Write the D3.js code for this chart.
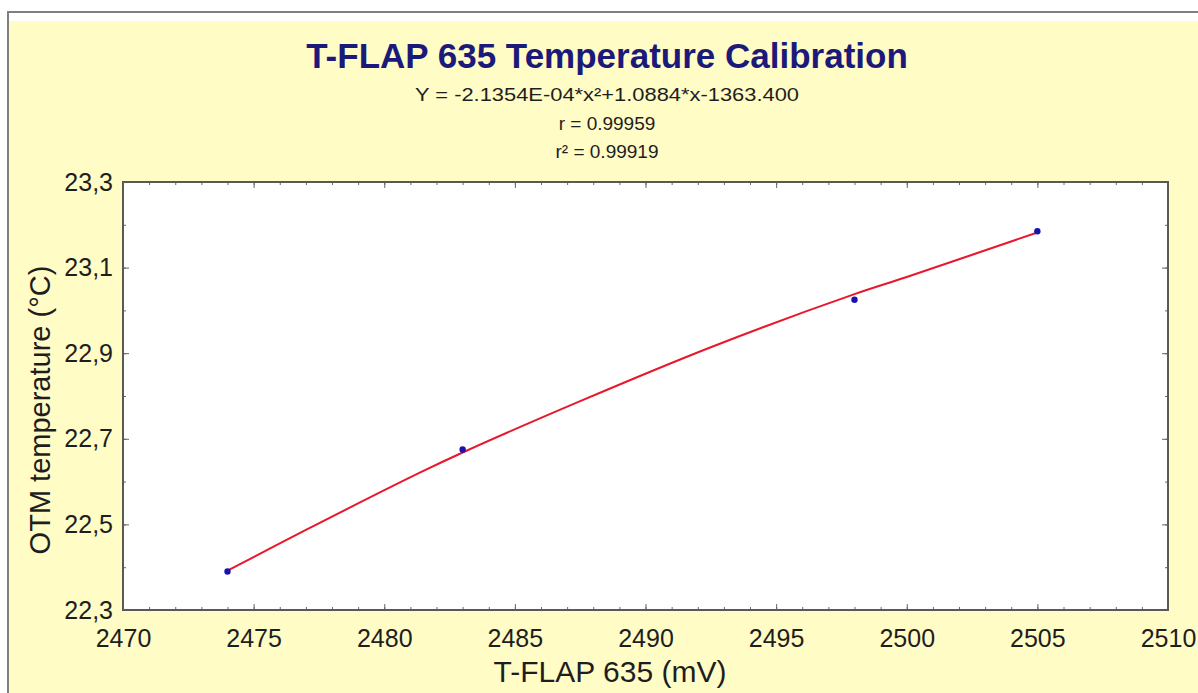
<!DOCTYPE html>
<html><head><meta charset="utf-8">
<script src="https://cdn.jsdelivr.net/npm/d3@7"></script>
<style>html,body{margin:0;padding:0;background:#fff;}svg{display:block;}</style>
</head><body>
<script>
// Data
const pointsX = [2474, 2483, 2498, 2505];
const pointsY = [22.39, 22.675, 23.025, 23.185];
const fitX = [2474, 2477, 2481.4, 2483, 2487.5, 2492.5, 2498, 2500, 2505];
const fitY = [22.392, 22.487, 22.622, 22.668, 22.788, 22.914, 23.038, 23.078, 23.182];
const xTicks = [2470, 2475, 2480, 2485, 2490, 2495, 2500, 2505, 2510];
const yTicks = [22.3, 22.5, 22.7, 22.9, 23.1, 23.3];
const titleText = "T-FLAP 635 Temperature Calibration";
const subLines = ["Y = -2.1354E-04*x²+1.0884*x-1363.400", "r = 0.99959", "r² = 0.99919"];
const xTitle = "T-FLAP 635 (mV)";
const yTitle = "OTM temperature (°C)";

const W = 1198, H = 693;
const L = 123, R = 1168, T = 182, B = 610;
const svg = d3.select("body").append("svg").attr("width", W).attr("height", H);
const font = "'Liberation Sans', Arial, sans-serif";

svg.append("rect").attr("x", 0).attr("y", 0).attr("width", W).attr("height", H).attr("fill", "#fff");
svg.append("rect").attr("x", 9).attr("y", 21).attr("width", W - 9).attr("height", H - 21).attr("fill", "#fffcc6");
svg.append("line").attr("x1", 8).attr("x2", W).attr("y1", 12).attr("y2", 12).attr("stroke", "#7f7f7f").attr("stroke-width", 2);
svg.append("line").attr("x1", 8).attr("x2", 8).attr("y1", 11).attr("y2", H).attr("stroke", "#7f7f7f").attr("stroke-width", 2);

const x = d3.scaleLinear().domain([2470, 2510]).range([L, R]);
const y = d3.scaleLinear().domain([22.3, 23.3]).range([B, T]);

svg.append("rect").attr("x", L).attr("y", T).attr("width", R - L).attr("height", B - T).attr("fill", "#fff");

// minor ticks
const xMinor = d3.range(2470, 2511, 1);
const yMinor = d3.range(22.3, 23.301, 0.1);
function axisTicks(axis, tks, size) {
  return axis.tickValues(tks).tickSize(size).tickFormat("");
}
const tickG = svg.append("g");
tickG.append("g").attr("transform", `translate(0,${B})`).call(axisTicks(d3.axisTop(x), xMinor, 3));
tickG.append("g").attr("transform", `translate(0,${B})`).call(axisTicks(d3.axisTop(x), xTicks, 6));
tickG.append("g").attr("transform", `translate(0,${T})`).call(axisTicks(d3.axisBottom(x), xMinor, 3));
tickG.append("g").attr("transform", `translate(0,${T})`).call(axisTicks(d3.axisBottom(x), xTicks, 6));
tickG.append("g").attr("transform", `translate(${L},0)`).call(axisTicks(d3.axisRight(y), yMinor, 3));
tickG.append("g").attr("transform", `translate(${L},0)`).call(axisTicks(d3.axisRight(y), yTicks, 6));
tickG.append("g").attr("transform", `translate(${R},0)`).call(axisTicks(d3.axisLeft(y), yMinor, 3));
tickG.append("g").attr("transform", `translate(${R},0)`).call(axisTicks(d3.axisLeft(y), yTicks, 6));
tickG.selectAll(".domain").remove();
tickG.selectAll(".tick line").attr("stroke", "#666").attr("stroke-width", 1);

// frame
svg.append("rect").attr("x", L).attr("y", T).attr("width", R - L).attr("height", B - T)
  .attr("fill", "none").attr("stroke", "#5a5a55").attr("stroke-width", 2);

// tick labels
const xAxisLab = svg.append("g").attr("transform", `translate(0,${B})`)
  .call(d3.axisBottom(x).tickValues(xTicks).tickSize(0).tickPadding(0).tickFormat(d3.format("d")));
xAxisLab.select(".domain").remove();
xAxisLab.selectAll("text").attr("dy", null).attr("y", 37)
  .attr("font-family", font).attr("font-size", 25).attr("fill", "#1e1e1e");

const yAxisLab = svg.append("g").attr("transform", `translate(${L},0)`)
  .call(d3.axisLeft(y).tickValues(yTicks).tickSize(0).tickPadding(10).tickFormat(d => d3.format(".1f")(d).replace(".", ",")));
yAxisLab.select(".domain").remove();
yAxisLab.selectAll("text").attr("font-family", font).attr("font-size", 25).attr("fill", "#1e1e1e");

// fit line
const line = d3.line().x(d => x(d[0])).y(d => y(d[1])).curve(d3.curveCatmullRom);
svg.append("path").datum(fitX.map((v, i) => [v, fitY[i]]))
  .attr("d", line).attr("fill", "none").attr("stroke", "#e8182c").attr("stroke-width", 2);

// points
svg.selectAll("circle.pt").data(pointsX.map((v, i) => [v, pointsY[i]])).enter().append("circle")
  .attr("class", "pt").attr("cx", d => x(d[0])).attr("cy", d => y(d[1])).attr("r", 3.2).attr("fill", "#1a12b0");

// titles
svg.append("text").attr("x", 607).attr("y", 68).attr("text-anchor", "middle")
  .attr("font-family", font).attr("font-weight", "bold").attr("font-size", 35).attr("fill", "#1b1a7a").text(titleText);
const subY = [101, 130, 158];
subLines.forEach((s, i) => {
  const t = svg.append("text").attr("x", 607).attr("y", subY[i]).attr("text-anchor", "middle")
    .attr("font-family", font).attr("font-size", 19).attr("fill", "#1e1e1e").text(s);
  if (i === 0) t.attr("textLength", 384).attr("lengthAdjust", "spacingAndGlyphs");
});
svg.append("text").attr("x", 610).attr("y", 682).attr("text-anchor", "middle")
  .attr("font-family", font).attr("font-size", 30).attr("fill", "#1e1e1e").text(xTitle);
svg.append("text").attr("transform", `translate(50,${410}) rotate(-90)`).attr("text-anchor", "middle")
  .attr("font-family", font).attr("font-size", 29).attr("fill", "#1e1e1e").text(yTitle);
</script>
</body></html>
